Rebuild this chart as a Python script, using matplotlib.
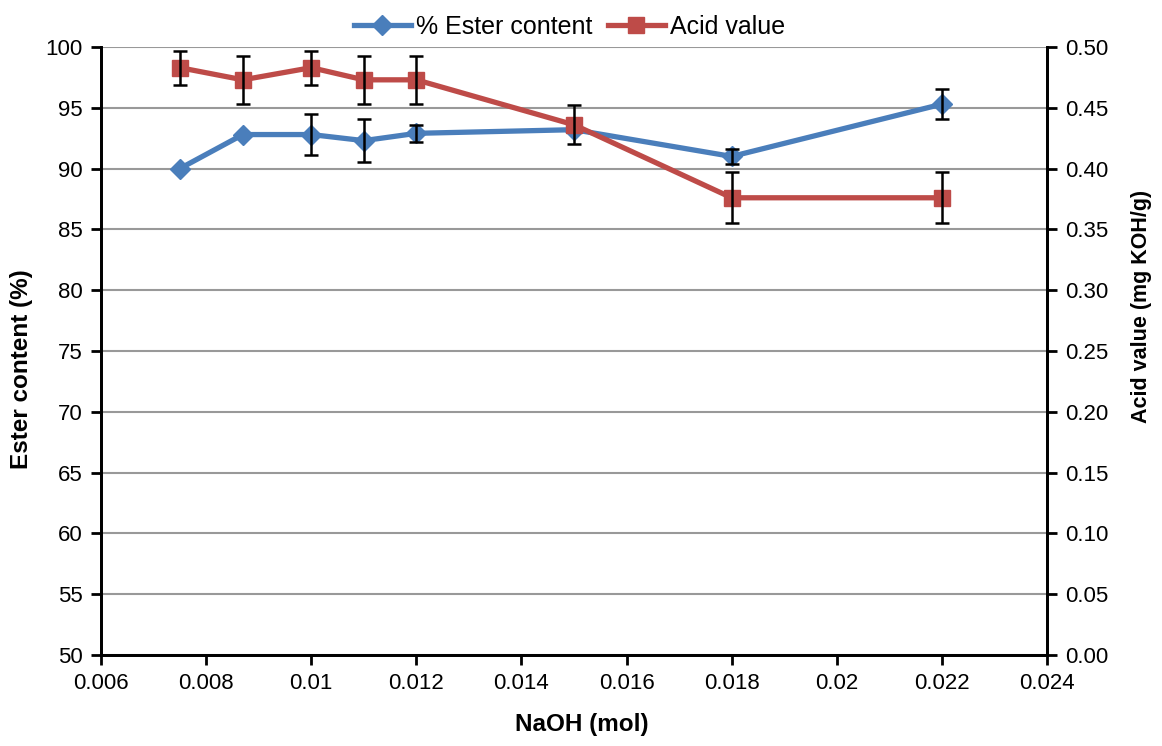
import matplotlib
matplotlib.use("Agg")
import matplotlib.pyplot as plt
from matplotlib.lines import Line2D

plt.rcParams['font.family'] = ['Liberation Sans', 'DejaVu Sans']

# data
naoh = [0.0075, 0.0087, 0.010, 0.011, 0.012, 0.015, 0.018, 0.022]
ester = [90.0, 92.8, 92.8, 92.3, 92.9, 93.2, 91.0, 95.3]
ester_err = [0.0, 0.0, 1.7, 1.75, 0.7, 0.0, 0.6, 1.25]
acid = [0.483, 0.473, 0.483, 0.473, 0.473, 0.436, 0.376, 0.376]
acid_err = [0.014, 0.020, 0.014, 0.020, 0.020, 0.016, 0.021, 0.021]

x_ticks = [0.006, 0.008, 0.01, 0.012, 0.014, 0.016, 0.018, 0.02, 0.022, 0.024]
x_labels = ["0.006", "0.008", "0.01", "0.012", "0.014", "0.016", "0.018", "0.02", "0.022", "0.024"]

blue = "#4A7EBB"
red = "#BE4B48"

fig = plt.figure(figsize=(11.62, 7.46), dpi=100)
ax = fig.add_axes([0.0869, 0.122, 0.8142, 0.815])
ax2 = ax.twinx()

# ester content (left axis), error bars only where there is one
ax.plot(naoh, ester, color=blue, lw=3.8, marker="D", ms=10, zorder=3)
eb = [(x, y, e) for x, y, e in zip(naoh, ester, ester_err) if e > 0]
ax.errorbar([p[0] for p in eb], [p[1] for p in eb], yerr=[p[2] for p in eb],
            fmt="none", ecolor="black", elinewidth=1.8, capsize=5,
            capthick=1.8, zorder=4)

# acid value (right axis)
ax2.plot(naoh, acid, color=red, lw=3.8, marker="s", ms=11, zorder=3)
ax2.errorbar(naoh, acid, yerr=acid_err, fmt="none", ecolor="black",
             elinewidth=1.8, capsize=5, capthick=1.8, zorder=4)

ax.set_xlim(0.006, 0.024)
ax.set_xticks(x_ticks)
ax.set_xticklabels(x_labels)
ax.set_ylim(50, 100)
ax.set_yticks(range(50, 101, 5))
ax2.set_ylim(0, 0.5)
ax2.set_yticks([i * 0.05 for i in range(11)])
ax2.set_yticklabels([f"{i * 0.05:.2f}" for i in range(11)])

ax.yaxis.grid(True, color="#999999", lw=1.5)
ax.set_axisbelow(True)

for a in (ax, ax2):
    a.spines["top"].set_visible(False)
    for s in ("left", "right", "bottom"):
        a.spines[s].set_linewidth(2)
    a.tick_params(direction="out", length=7, width=2, labelsize=16, pad=6)

ax.set_xlabel("NaOH (mol)", fontsize=17.5, fontweight="bold")
ax.xaxis.set_label_coords(0.508, -0.095)
ax.set_ylabel("Ester content (%)", fontsize=17.5, fontweight="bold")
ax.yaxis.set_label_coords(-0.072, 0.47)
ax2.set_ylabel("Acid value (mg KOH/g)", fontsize=15.5, fontweight="bold")
ax2.yaxis.set_label_coords(1.089, 0.574)

handles = [Line2D([], [], color=blue, lw=3.8, marker="D", ms=10),
           Line2D([], [], color=red, lw=3.8, marker="s", ms=11)]
fig.legend(handles, ["% Ester content", "Acid value"], loc="upper center",
           bbox_to_anchor=(0.49, 1.01), ncol=2, frameon=False, fontsize=18,
           handlelength=2.3, columnspacing=0.6, handletextpad=0.2)

fig.savefig("out.png", dpi=100)
